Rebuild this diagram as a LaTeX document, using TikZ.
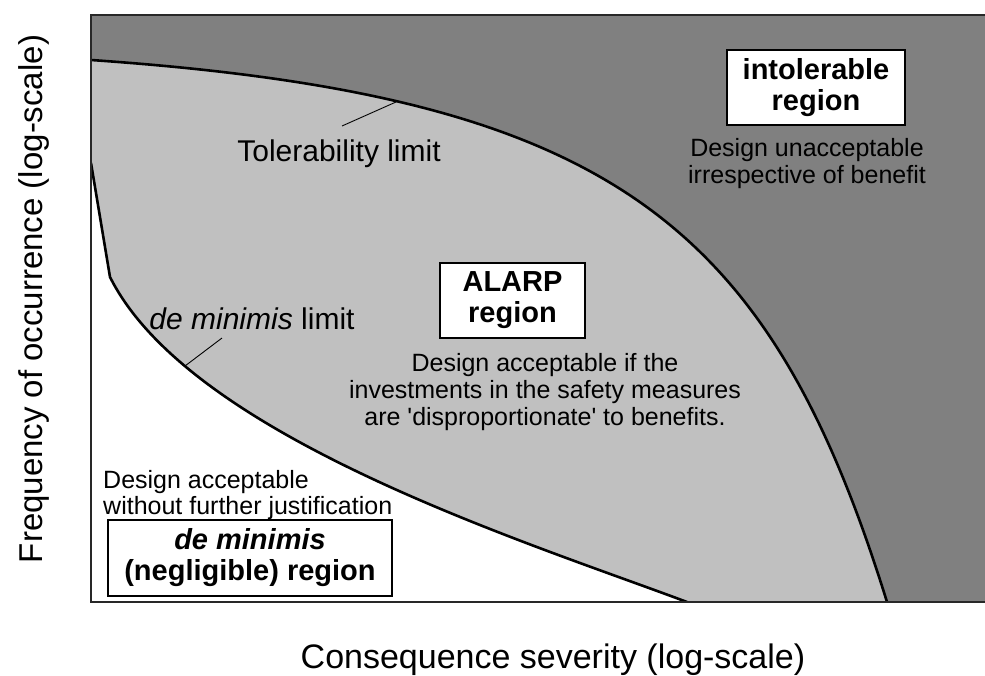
\documentclass[tikz,border=0pt]{standalone}
\usepackage{fontspec}
\setmainfont{Liberation Sans}
\definecolor{intolgray}{RGB}{128,128,128}
\definecolor{alarpgray}{RGB}{192,192,192}
\definecolor{framegray}{RGB}{40,40,40}

\begin{document}
\begin{tikzpicture}[x=1pt,y=-1pt]
		\tikzset{limit/.style = {line width=2.6pt, line join=round}}
		\tikzset{leader/.style = {line width=0.9pt}}
		\tikzset{regionbox/.style = {draw, line width=1.3pt, fill=white, inner sep=0pt, align=center, font=\fontsize{29}{31}\selectfont\bfseries}}
		\tikzset{note/.style = {inner sep=0pt, font=\fontsize{25}{26.5}\selectfont}}
		\tikzset{limitlabel/.style = {anchor=base, inner sep=0pt, font=\fontsize{30}{34}\selectfont}}
		\tikzset{axislabel/.style = {anchor=base, inner sep=0pt, font=\fontsize{33}{36}\selectfont}}
		\useasboundingbox (0,0) rectangle (985,675);
		% regions
		\fill[intolgray] (91,15) rectangle (985,602);
		\begin{scope}
			\clip (91,15) rectangle (985,602);
			\filldraw[limit, fill=alarpgray] (60,640) -- (60,60) -- (91,60) .. controls (611,96) and (769,222) .. (887,602) -- (887,640) -- cycle;
			\filldraw[limit, fill=white] (60,640) -- (60,163) -- (91,163) -- (110,277) .. controls (190,437) and (527,542) .. (687,602) -- (687,640) -- cycle;
		\end{scope}
		\draw[line width=2pt, framegray] (985,15) -- (91,15) -- (91,602) -- (985,602);
		% leaders
		\coordinate (tolpt) at (396,102);
		\coordinate (tolend) at (342,126);
		\coordinate (minpt) at (185,366);
		\coordinate (minend) at (222,338);
		\draw[leader] (tolend) -- (tolpt);
		\draw[leader] (minend) -- (minpt);
		% labels
		\node[limitlabel] (tollabel) at (339,161) {Tolerability limit};
		\node[limitlabel] (minlabel) at (252,329) {\textit{de minimis} limit};
		\node[regionbox, minimum width=178pt, minimum height=75pt] (intol) at (816,87.5) {intolerable\\region};
		\node[note, align=center] (intolnote) at (807,163.5) {Design unacceptable\\irrespective of benefit};
		\node[regionbox, minimum width=145pt, minimum height=75pt] (alarp) at (512.5,300.5) {ALARP\\region};
		\node[note, align=center, font=\fontsize{25}{27}\selectfont] (alarpnote) at (545,392.5) {Design acceptable if the\\investments in the safety measures\\are \textquotesingle disproportionate\textquotesingle{} to benefits.};
		\node[note, align=left, anchor=west] (minnote) at (103,495) {Design acceptable\\without further justification};
		\node[regionbox, minimum width=284pt, minimum height=76pt] (minbox) at (250,558) {\textit{de minimis}\\(negligible) region};
		\node[axislabel, font=\fontsize{34}{36}\selectfont] (xlabel) at (553,668) {Consequence severity (log-scale)};
		\node[axislabel, rotate=90] (ylabel) at (42,299) {Frequency of occurrence (log-scale)};
\end{tikzpicture}
\end{document}
